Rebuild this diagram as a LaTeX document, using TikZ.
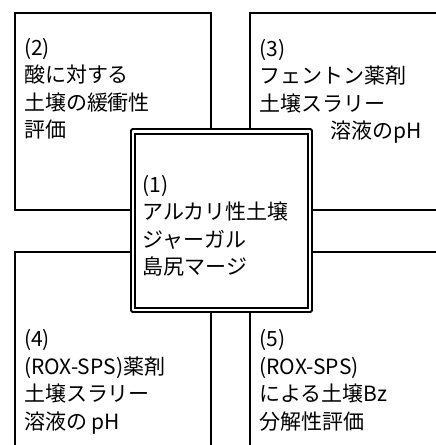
\documentclass[tikz,border=0pt]{standalone}
\usepackage{fontspec}
\setmainfont{Noto Sans CJK JP}
\begin{document}
\begin{tikzpicture}[x=1pt,y=-1pt,
  box/.style={line width=2pt, line join=miter},
  frame/.style={draw, line width=1.8pt, inner sep=0pt, outer sep=0pt},
  txt/.style={anchor=base west, inner sep=0pt, outer sep=0pt,
    font=\fontsize{21}{27.5}\selectfont}]
\useasboundingbox (0,0) rectangle (436,445);
% center box (double frame)
\node[frame, rounded corners=1.5pt, minimum width=181pt, minimum height=183pt] (c) at (221.5,220.5) {};
\node[frame, minimum width=173pt, minimum height=174pt] (ci) at (221.5,221) {};
% surrounding boxes, each closed by the centre box
\draw[box] (c.west |- 0,210) -- (15,210) -- (15,13) -- (211,13) -- (211,0 |- c.north);
\draw[box] (250,0 |- c.north) -- (250,13) -- (436,13);
\draw[box] (c.east |- 0,210) -- (436,210);
\draw[box] (c.west |- 0,252) -- (15,252) -- (15,445);
\draw[box] (211,0 |- c.south) -- (211,445);
\draw[box] (250,0 |- c.south) -- (250,445);
\draw[box] (c.east |- 0,252) -- (436,252);
% texts
\foreach \s [count=\i] in {{(2)},{酸に対する},{土壌の緩衝性},{評価}}
  \node[txt] (t2-\i) at (24,{55+27.5*(\i-1)}) {\s};
\foreach \s [count=\i] in {{(3)},{フェントン薬剤},{土壌スラリー}}
  \node[txt] (t3-\i) at (259.5,{56+27.5*(\i-1)}) {\s};
\node[txt] (t3-4) at (330.5,138.5) {溶液のpH};
\foreach \s [count=\i] in {{(1)},{アルカリ性土壌},{ジャーガル},{島尻マージ}}
  \node[txt] (t1-\i) at (142.5,{192+27.5*(\i-1)}) {\s};
\foreach \s [count=\i] in {{(4)},{(ROX-SPS)薬剤},{土壌スラリー},{溶液の pH}}
  \node[txt] (t4-\i) at (24,{346.5+27.5*(\i-1)}) {\s};
\foreach \s [count=\i] in {{(5)},{(ROX-SPS)},{による土壌Bz},{分解性評価}}
  \node[txt] (t5-\i) at (259.5,{346.5+27.5*(\i-1)}) {\s};
\end{tikzpicture}
\end{document}
